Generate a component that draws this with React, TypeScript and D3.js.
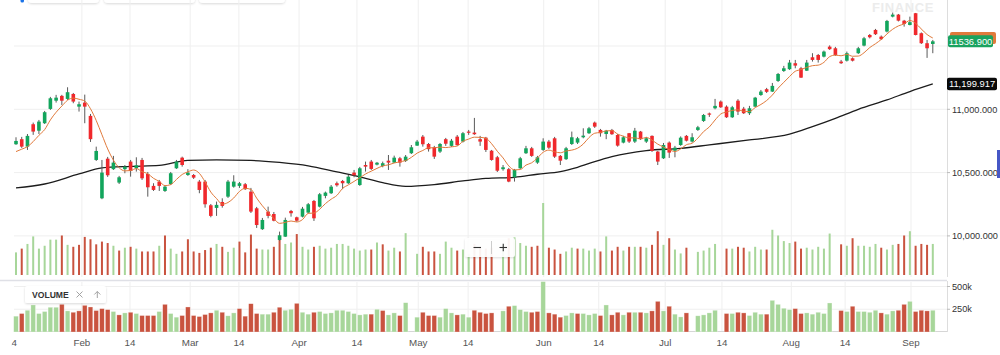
import React from "react";
import * as d3 from "d3";

// ---------- DATA ----------
const opens = [
  10724, 10764, 10705, 10882, 10831, 10890, 11003, 11068, 11106, 11082,
  11121, 11021, 11053, 10948, 10600, 10297, 10610, 10527, 10421, 10527,
  10587, 10534, 10600, 10489, 10395, 10429, 10355, 10410, 10534, 10618,
  10481, 10481, 10429, 10429, 10242, 10221, 10268, 10310, 10389, 10395,
  10408, 10350, 10218, 10053, 10192, 10173, 9968, 9994, 10197, 10147,
  10152, 10184, 10276, 10231, 10316, 10337, 10416, 10434, 10416, 10500,
  10402, 10560, 10587, 10563, 10553, 10594, 10579, 10613, 10592, 10653,
  10713, 10784, 10726, 10700, 10666, 10764, 10711, 10784, 10745, 10824,
  10816, 10764, 10776, 10673, 10621, 10527, 10527, 10463, 10534, 10653,
  10692, 10579, 10679, 10745, 10771, 10632, 10606, 10726, 10737, 10779,
  10811, 10895, 10837, 10805, 10837, 10797, 10737, 10811, 10745, 10824,
  10745, 10790, 10666, 10613, 10737, 10673, 10718, 10790, 10745, 10837,
  10908, 10967, 11008, 11061, 11021, 10937, 11068, 11005, 10969, 11021,
  11113, 11159, 11140, 11224, 11303, 11317, 11364, 11324, 11305, 11411,
  11429, 11416, 11495, 11482, 11377, 11384, 11403, 11443, 11503, 11587,
  11627, 11574, 11614, 11732, 11748, 11700, 11666, 11759, 11601, 11522,
  11516,
];
const highs = [
  10779, 10782, 10805, 10895, 10916, 10987, 11098, 11114, 11114, 11174,
  11129, 11061, 11116, 10963, 10705, 10600, 10624, 10632, 10474, 10560,
  10600, 10621, 10616, 10505, 10416, 10442, 10402, 10505, 10600, 10626,
  10527, 10489, 10442, 10442, 10252, 10271, 10297, 10442, 10479, 10426,
  10418, 10379, 10229, 10142, 10231, 10189, 10034, 10144, 10205, 10152,
  10229, 10260, 10284, 10339, 10350, 10402, 10429, 10442, 10481, 10521,
  10545, 10587, 10600, 10584, 10587, 10639, 10634, 10624, 10639, 10718,
  10758, 10797, 10734, 10711, 10734, 10774, 10766, 10797, 10821, 10837,
  10932, 10790, 10782, 10679, 10632, 10560, 10537, 10529, 10624, 10711,
  10703, 10632, 10771, 10758, 10782, 10639, 10703, 10824, 10782, 10850,
  10861, 10903, 10845, 10837, 10845, 10805, 10790, 10813, 10853, 10829,
  10782, 10794, 10671, 10734, 10746, 10711, 10786, 10797, 10811, 10869,
  10963, 10974, 11082, 11070, 11031, 11027, 11080, 11019, 11027, 11098,
  11153, 11169, 11208, 11287, 11343, 11390, 11390, 11335, 11390, 11443,
  11437, 11464, 11505, 11493, 11390, 11456, 11410, 11493, 11572, 11595,
  11635, 11583, 11706, 11764, 11753, 11706, 11732, 11761, 11607, 11548,
  11548,
];
const lows = [
  10719, 10695, 10679, 10798, 10805, 10884, 10995, 11053, 11034, 11074,
  11048, 10982, 10890, 10742, 10592, 10290, 10466, 10521, 10410, 10495,
  10468, 10508, 10442, 10310, 10355, 10355, 10347, 10402, 10529, 10547,
  10474, 10450, 10337, 10223, 10147, 10158, 10223, 10300, 10381, 10379,
  10363, 10181, 10063, 10047, 10139, 10115, 9962, 9992, 10152, 10112,
  10146, 10177, 10118, 10225, 10297, 10331, 10389, 10369, 10410, 10463,
  10395, 10508, 10521, 10557, 10542, 10521, 10576, 10547, 10584, 10647,
  10711, 10705, 10666, 10608, 10655, 10711, 10703, 10711, 10738, 10798,
  10798, 10711, 10663, 10594, 10505, 10515, 10424, 10429, 10529, 10647,
  10624, 10569, 10671, 10687, 10616, 10560, 10600, 10718, 10726, 10771,
  10805, 10853, 10784, 10764, 10798, 10705, 10731, 10734, 10734, 10758,
  10734, 10663, 10560, 10608, 10616, 10621, 10711, 10746, 10738, 10829,
  10900, 10940, 11000, 11011, 10932, 10932, 10955, 10963, 10955, 11019,
  11106, 11129, 11137, 11216, 11295, 11311, 11324, 11248, 11303, 11377,
  11369, 11410, 11469, 11422, 11358, 11377, 11378, 11437, 11497, 11560,
  11587, 11548, 11607, 11726, 11694, 11653, 11663, 11584, 11516, 11406,
  11443,
];
const closes = [
  10750, 10705, 10790, 10824, 10903, 10977, 11087, 11092, 11068, 11135,
  11061, 11040, 11021, 10764, 10671, 10500, 10479, 10579, 10463, 10547,
  10513, 10558, 10455, 10384, 10363, 10395, 10389, 10495, 10587, 10560,
  10500, 10460, 10363, 10250, 10158, 10245, 10237, 10429, 10429, 10416,
  10369, 10192, 10086, 10126, 10158, 10120, 10005, 10126, 10179, 10120,
  10215, 10250, 10139, 10329, 10342, 10389, 10400, 10416, 10468, 10479,
  10534, 10547, 10529, 10578, 10574, 10579, 10618, 10579, 10626, 10700,
  10745, 10724, 10685, 10626, 10726, 10728, 10752, 10718, 10811, 10815,
  10803, 10745, 10679, 10600, 10515, 10542, 10429, 10521, 10613, 10692,
  10632, 10621, 10745, 10697, 10626, 10594, 10692, 10779, 10771, 10792,
  10850, 10863, 10811, 10831, 10803, 10713, 10779, 10745, 10831, 10764,
  10771, 10671, 10587, 10718, 10658, 10697, 10776, 10752, 10779, 10858,
  10955, 10958, 11027, 11016, 10937, 11016, 10982, 10969, 11008, 11092,
  11140, 11138, 11185, 11279, 11324, 11369, 11345, 11250, 11369, 11390,
  11390, 11456, 11475, 11429, 11364, 11443, 11384, 11482, 11561, 11569,
  11593, 11554, 11698, 11748, 11700, 11674, 11688, 11587, 11522, 11482,
  11536.9,
];
// volume in thousands, null = no value that day
const volumesK: (number | null)[] = [
  174, 203, 239, 297, 203, 225, 272, 272, 304, 232,
  217, 232, 293, 275, 236, 257, 246, 225, 188, 210,
  217, 203, 181, 181, 181, 225, 304, 203, 163, 181,
  275, 181, 170, 192, 210, 239, 217, 178, 210, 257,
  174, 311, 203, 196, 196, 217, 272, 239, 250, 315,
  217, 196, 217, 225, 203, 210, 239, 239, 225, 203,
  188, 196, 196, 250, 236, 188, 210, 181, 322, null,
  163, 217, 181, 181, 163, 257, 210, 188, 196, 163,
  239, 217, 203, 210, null, 232, 283, 290, 246, 225,
  217, 225, 554, 210, 196, 163, 181, 210, 203, 203,
  188, 203, 181, 297, 188, 217, 188, 217, 217, 217,
  210, 232, 337, 232, 283, 196, 166, 210, null, 178,
  188, 210, 239, null, 203, 203, 217, 210, 181, 217,
  196, 196, 348, 304, 261, 246, 257, 203, 210, 196,
  217, 203, 319, null, 236, 225, 283, 225, 225, 217,
  239, 210, 196, 232, 239, 304, 337, 225, 239, 232,
  239,
];
// closes of the 4 sessions before the window (for the 5-day average)
const priorCloses = [10610, 10690, 10624, 10656];
// long moving average
const slowMaIndex = [0, 5, 11, 15, 20, 25, 30, 35, 41, 46, 51, 56, 60, 64, 68, 73, 78, 82, 87, 91, 95, 98, 101, 104, 110, 116, 121, 128, 135, 139, 143, 147, 152, 156, 160];
const slowMaValue = [10379, 10410, 10489, 10537, 10549, 10557, 10596, 10600, 10596, 10580, 10553, 10505, 10466, 10420, 10391, 10405, 10434, 10454, 10463, 10487, 10508, 10542, 10587, 10626, 10674, 10692, 10719, 10758, 10803, 10863, 10929, 11000, 11074, 11140, 11199.917];

const xTickIndex = [-0.8, 11.5, 19.9, 30.4, 38.9, 49.4, 59.5, 70.2, 78.9, 92.1, 101.7, 113.3, 123.2, 135.3, 144.7, 156.2];
const xTickLabels = ["14", "Feb", "14", "Mar", "14", "Apr", "14", "May", "14", "Jun", "14", "Jul", "14", "Aug", "14", "Sep"];
const priceGrid = [10000, 10500, 11000, 11500];
const priceTickLabels = [10000, 10500, 11000];
const volumeTicks = [250, 500];
const volumeTickLabels = ["250k", "500k"];

// ---------- STYLE ----------
const FONT = "'Liberation Sans', Arial, Helvetica, sans-serif";
const UP = "#12a55c";
const DOWN = "#f0282c";
const VOL_UP = "#a7d69a";
const VOL_DOWN = "#c9533f";
const GRID = "#efefef";

export default function App() {
  const n = closes.length;
  const x = d3.scaleLinear().domain([0, n - 1]).range([16, 932.8]);
  const y = d3.scaleLinear().domain([10000, 11000]).range([235.9, 109.3]);
  const vMax = d3.max(volumesK, (v) => (v == null ? 0 : v)) as number;
  const vOver = d3.scaleLinear().domain([0, vMax]).range([275, 203]);
  const vPanel = d3.scaleLinear().domain([0, 500]).range([332, 286.5]);

  const plotL = 14;
  const plotR = 947;

  const full = priorCloses.concat(closes);
  const sma5 = closes.map((_, i) => d3.mean(full.slice(i, i + 5)) as number);
  const fastLine = d3
    .line<number>()
    .x((_, i) => x(i))
    .y((d) => y(d))
    .curve(d3.curveMonotoneX)(sma5) as string;
  const slowLine = d3
    .line<number>()
    .x((_, i) => x(slowMaIndex[i]))
    .y((d) => y(d))
    .curve(d3.curveMonotoneX)(slowMaValue) as string;

  const isUpVol = (i: number) => (i === 0 ? closes[0] >= opens[0] : closes[i] >= closes[i - 1]);
  const fmtAxis = d3.format(",.3f");
  const fmtLast = d3.format(".3f");
  const lastClose = closes[n - 1];
  const lastSlow = slowMaValue[slowMaValue.length - 1];
  const bw = 3.6;

  return (
    <svg
      width={1000}
      height={355}
      style={{ position: "absolute", left: 0, top: 0, background: "#fff", fontFamily: FONT }}
    >
      <defs>
        <clipPath id="plotClip">
          <rect x={11.5} y={0} width={plotR - 11.5} height={278} />
        </clipPath>
        <clipPath id="panelClip">
          <rect x={11.5} y={281} width={plotR - 11.5} height={52} />
        </clipPath>
        <clipPath id="axisClip">
          <rect x={11.5} y={333} width={990} height={22} />
        </clipPath>
        <filter id="shadow" x="-20%" y="-40%" width="140%" height="180%">
          <feDropShadow dx="0" dy="1" stdDeviation="1.2" floodColor="#000" floodOpacity="0.15" />
        </filter>
      </defs>
      <rect x={0} y={0} width={1000} height={355} fill="#fff" />

      {/* top tabs */}
      <rect x={28} y={-12} width={71} height={15} rx={4} fill="#fff" filter="url(#shadow)" />
      <rect x={104} y={-12} width={91} height={15} rx={4} fill="#fff" filter="url(#shadow)" />
      <rect x={199} y={-12} width={86} height={15} rx={4} fill="#fff" filter="url(#shadow)" />
      <rect x={20.5} y={-4} width={3.5} height={6.5} rx={1.5} fill="#1a73e8" />

      {/* main grid */}
      {priceGrid.map((p) => (
        <line key={"hg" + p} x1={plotL} x2={plotR} y1={y(p)} y2={y(p)} stroke={GRID} />
      ))}
      {xTickIndex.slice(1).map((t, k) => (
        <g key={"vg" + k}>
          <line x1={x(t)} x2={x(t)} y1={0} y2={277} stroke={GRID} />
          <line x1={x(t)} x2={x(t)} y1={282} y2={332} stroke={GRID} />
        </g>
      ))}
      {volumeTicks.map((v) => (
        <line key={"vpg" + v} x1={plotL} x2={plotR} y1={vPanel(v)} y2={vPanel(v)} stroke={GRID} />
      ))}

      {/* watermark */}
      <text x={872} y={12} fontSize={13} fontWeight={700} fill="#ececec" letterSpacing={0.6}>
        FINANCE
      </text>

      <g clipPath="url(#plotClip)">
        {/* overlay volume */}
        {volumesK.map((v, i) =>
          v == null ? null : (
            <rect
              key={"ov" + i}
              x={x(i) - 1}
              y={vOver(v)}
              width={2}
              height={vOver(0) - vOver(v)}
              fill={isUpVol(i) ? VOL_UP : VOL_DOWN}
            />
          )
        )}
        {/* moving averages */}
        <path d={slowLine} fill="none" stroke="#1c1c1c" strokeWidth={1.3} />
        {/* candles */}
        {closes.map((c, i) => {
          const o = opens[i];
          const up = c >= o;
          const top = y(Math.max(o, c));
          const bot = y(Math.min(o, c));
          return (
            <g key={"c" + i}>
              <line x1={x(i)} x2={x(i)} y1={y(highs[i])} y2={y(lows[i])} stroke="#5a5a5a" strokeWidth={1} />
              <rect
                x={x(i) - bw / 2}
                y={top}
                width={bw}
                height={Math.max(1.2, bot - top)}
                fill={up ? UP : DOWN}
              />
            </g>
          );
        })}
        <path d={fastLine} fill="none" stroke="#e07a3c" strokeWidth={1} />
      </g>

      {/* zoom control */}
      <g>
        <rect x={465} y={238} width={50} height={19} rx={2} fill="#fff" fillOpacity={0.92} filter="url(#shadow)" />
        <line x1={491.5} x2={491.5} y1={241} y2={254} stroke="#ccc" />
        <line x1={473.5} x2={481} y1={247.5} y2={247.5} stroke="#333" strokeWidth={1.1} />
        <line x1={499.5} x2={507} y1={247.5} y2={247.5} stroke="#333" strokeWidth={1.1} />
        <line x1={503.25} x2={503.25} y1={243.8} y2={251.2} stroke="#333" strokeWidth={1.1} />
      </g>

      {/* separators and axes lines */}
      <line x1={plotR + 0.5} x2={plotR + 0.5} y1={0} y2={277} stroke="#ddd" />
      <line x1={0} x2={plotR} y1={280.5} y2={280.5} stroke="#dfe0e6" strokeWidth={1.5} />
      <line x1={plotR + 0.5} x2={plotR + 0.5} y1={281} y2={332} stroke="#ddd" />
      <line x1={plotL} x2={plotR} y1={331.5} y2={331.5} stroke="#d6d6d6" />

      {/* volume panel */}
      <g clipPath="url(#panelClip)">
        {volumesK.map((v, i) =>
          v == null ? null : (
            <rect
              key={"pv" + i}
              x={x(i) - 2.3}
              y={vPanel(v)}
              width={4.6}
              height={vPanel(0) - vPanel(v)}
              fill={isUpVol(i) ? VOL_UP : VOL_DOWN}
              stroke="#fff"
              strokeOpacity={0.5}
              strokeWidth={0.6}
            />
          )
        )}
      </g>

      {/* VOLUME legend */}
      <g>
        <rect x={25} y={286} width={81} height={17} rx={2} fill="#fff" filter="url(#shadow)" />
        <text x={32} y={297.8} fontSize={8.6} fontWeight={700} fill="#333">
          VOLUME
        </text>
        <line x1={76.5} x2={82.5} y1={291.5} y2={297.5} stroke="#999" strokeWidth={0.9} />
        <line x1={82.5} x2={76.5} y1={291.5} y2={297.5} stroke="#999" strokeWidth={0.9} />
        <line x1={97.3} x2={97.3} y1={291.5} y2={298} stroke="#999" strokeWidth={0.9} />
        <path d="M94.3,294.5 L97.3,291.5 L100.3,294.5" fill="none" stroke="#999" strokeWidth={0.9} />
      </g>

      {/* right price axis */}
      {priceTickLabels.map((p) => (
        <g key={"pl" + p}>
          <line x1={plotR} x2={plotR + 3} y1={y(p)} y2={y(p)} stroke="#bbb" />
          <text x={952} y={y(p)} dy="0.35em" fontSize={9.2} fill="#333">
            {fmtAxis(p)}
          </text>
        </g>
      ))}
      {volumeTicks.map((v, k) => (
        <g key={"vl" + v}>
          <line x1={plotR} x2={plotR + 3} y1={vPanel(v)} y2={vPanel(v)} stroke="#bbb" />
          <text x={952} y={vPanel(v)} dy="0.35em" fontSize={9.2} fill="#333">
            {volumeTickLabels[k]}
          </text>
        </g>
      ))}

      {/* value badges */}
      <rect x={950} y={y(sma5[n - 1]) - 6} width={46} height={12} rx={2} fill="#e07a3c" />
      <rect x={948} y={y(lastClose) - 6} width={45} height={12} rx={2} fill="#1aa35f" />
      <text x={970.5} y={y(lastClose)} dy="0.35em" textAnchor="middle" fontSize={9.4} fill="#fff">
        {fmtLast(lastClose)}
      </text>
      <rect x={947} y={y(lastSlow) - 6.3} width={50} height={12.6} rx={2} fill="#0a0a0a" />
      <text x={972} y={y(lastSlow)} dy="0.35em" textAnchor="middle" fontSize={9.4} fill="#fff">
        {fmtAxis(lastSlow)}
      </text>

      {/* right edge marker */}
      <rect x={997} y={150} width={4} height={28} fill="#4657c6" />

      {/* x axis labels */}
      <g clipPath="url(#axisClip)">
        {xTickIndex.map((t, k) => (
          <text key={"xl" + k} x={x(t)} y={343} dy="0.35em" textAnchor="middle" fontSize={9.8} fill="#555">
            {xTickLabels[k]}
          </text>
        ))}
      </g>
    </svg>
  );
}
